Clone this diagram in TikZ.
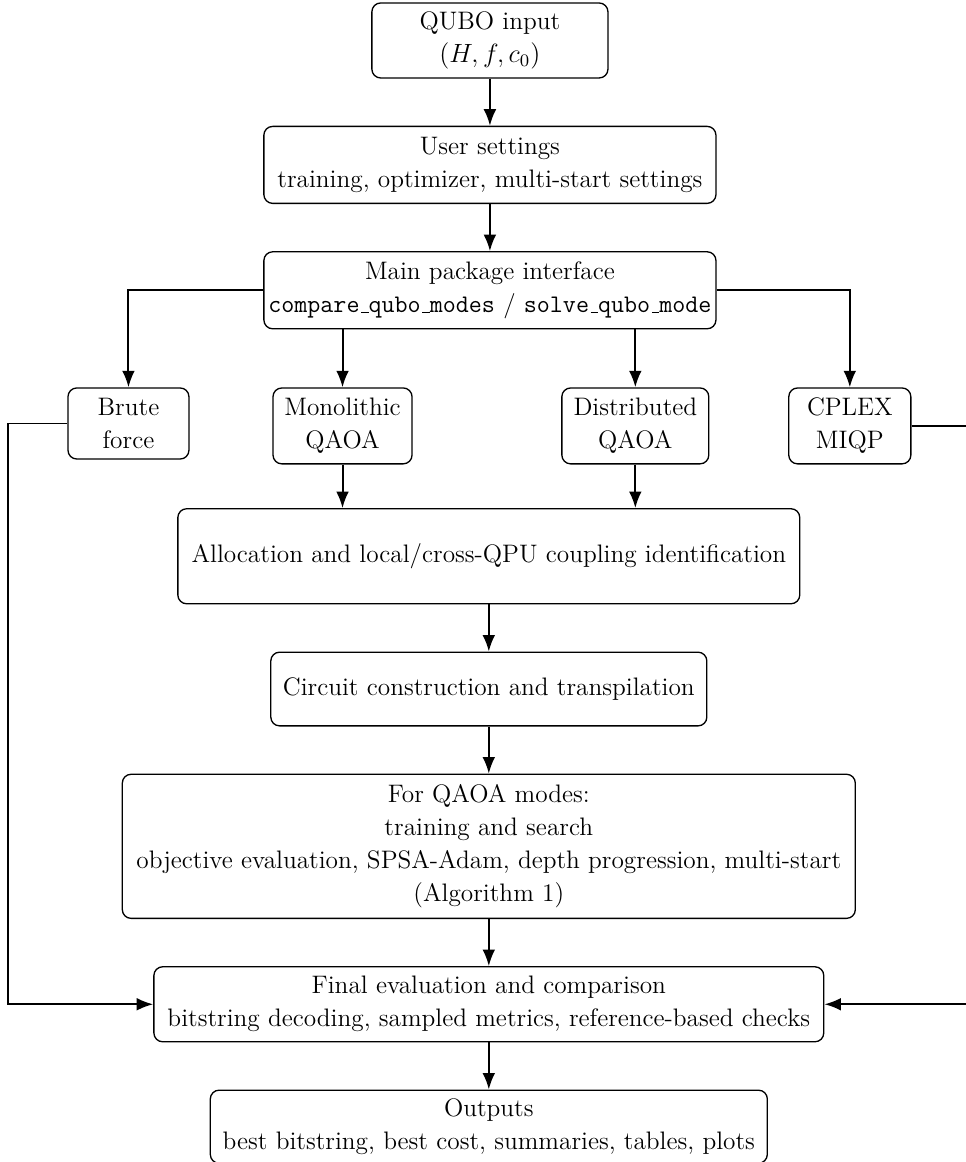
\documentclass[tikz,border=0pt]{standalone}
\usepackage{amsmath}
\usetikzlibrary{positioning,arrows.meta}
\newcommand{\usc}{\leavevmode\kern.06em\vbox{\hrule width.3em}}

\begin{document}
\begin{tikzpicture}[node distance = 21.4pt, auto,
    block/.style = {draw, semithick, rounded corners=4pt, align=center, inner sep=1pt,
      font=\fontsize{11.5pt}{15pt}\selectfont},
    arr/.style = {line width=0.9pt, -{Latex[length=7.5pt,width=5.8pt]}}]
      \useasboundingbox (-222.7pt,18.4pt) rectangle (216.4pt,-509.8pt);
      \node (qubo) [block, minimum width=107.3pt, minimum height=34.1pt] at (0,0) {QUBO input\\ $(H,f,c_0)$};
      \node (user) [block, below=of qubo, minimum width=205.5pt, minimum height=35pt] {User settings\\ training, optimizer, multi-start settings};
      \node (main) [block, below=of user, minimum width=205.5pt, minimum height=35pt] {Main package interface\\ \texttt{compare\usc qubo\usc modes} / \texttt{solve\usc qubo\usc mode}};
      \node (brute) [block, below=26.3pt of main, xshift=-164.3pt, minimum width=55pt, minimum height=32.3pt] {Brute\\ force};
      \node (mono) [block, below=26.3pt of main, xshift=-67pt, minimum width=63.2pt, minimum height=34.5pt] {Monolithic\\ QAOA};
      \node (dist) [block, below=26.3pt of main, xshift=66.1pt, minimum width=66.8pt, minimum height=34.5pt] {Distributed\\ QAOA};
      \node (cplex) [block, below=26.3pt of main, xshift=163.6pt, minimum width=55.5pt, minimum height=34.5pt] {CPLEX\\ MIQP};
      \node (alloc) [block, below=19.8pt of mono, xshift=66.5pt, minimum width=282.7pt, minimum height=43.2pt] {Allocation and local/cross-QPU coupling identification};
      \node (circ) [block, below=of alloc, minimum width=198.2pt, minimum height=33.5pt] {Circuit construction and transpilation};
      \node (train) [block, below=of circ, minimum width=333.2pt, minimum height=65.5pt] {For QAOA modes:\\ training and search\\ objective evaluation, SPSA-Adam, depth progression, multi-start\\ (Algorithm 1)};
      \node (final) [block, below=of train, minimum width=304.5pt, minimum height=34.1pt] {Final evaluation and comparison\\ bitstring decoding, sampled metrics, reference-based checks};
      \node (out) [block, below=of final, minimum width=253.2pt, minimum height=33.2pt] {Outputs\\ best bitstring, best cost, summaries, tables, plots};
      \coordinate (lturn) at ([xshift=-26.8pt]brute.west);
      \coordinate (rturn) at ([xshift=26.8pt]cplex.east);
      \draw [arr] (qubo) to (user);
      \draw [arr] (user) to (main);
      \draw [arr] (main.west) -| (brute.north);
      \draw [arr] (main.east) -| (cplex.north);
      \draw [arr] (mono.north |- main.south) to (mono.north);
      \draw [arr] (dist.north |- main.south) to (dist.north);
      \draw [arr] (mono.south) to (mono.south |- alloc.north);
      \draw [arr] (dist.south) to (dist.south |- alloc.north);
      \draw [arr] (alloc) to (circ);
      \draw [arr] (circ) to (train);
      \draw [arr] (train) to (final);
      \draw [arr] (final) to (out);
      \draw [arr] (brute.west) -- (lturn) |- (final.west);
      \draw [arr] (cplex.east) -- (rturn) |- (final.east);
\end{tikzpicture}
\end{document}
